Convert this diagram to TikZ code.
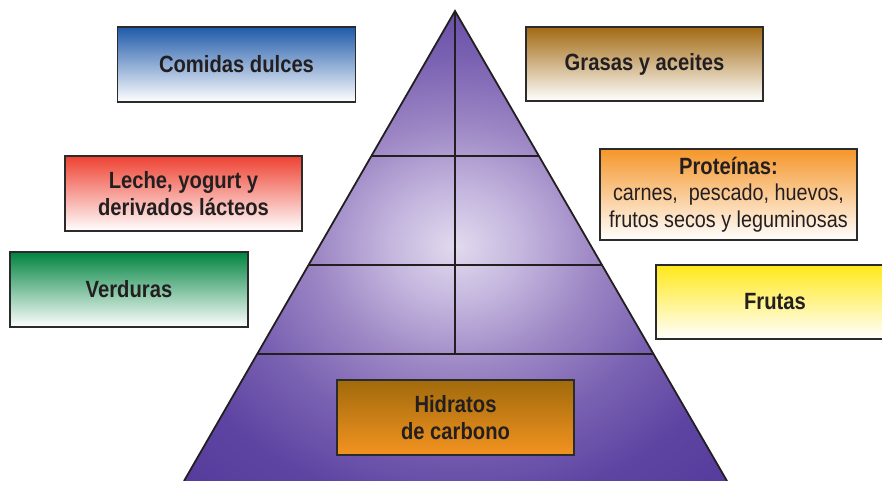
\documentclass[tikz,border=0pt]{standalone}
\usepackage{fontspec}
\setmainfont{Liberation Sans}[FakeStretch=0.86]
\usetikzlibrary{calc}
\definecolor{txt}{HTML}{231F20}
\definecolor{edge}{HTML}{2B2B2B}
\definecolor{pyr0}{HTML}{E2DAEE}
\definecolor{pyr1}{HTML}{C4B6DE}
\definecolor{pyr2}{HTML}{9C86C4}
\definecolor{pyr3}{HTML}{7A62B2}
\definecolor{pyr4}{HTML}{5E44A2}
\definecolor{pyr5}{HTML}{513698}
\definecolor{cblue}{HTML}{1F5AAA}
\definecolor{cbrown}{HTML}{A26A12}
\definecolor{cred}{HTML}{EE4232}
\definecolor{corange}{HTML}{F5962A}
\definecolor{cgreen}{HTML}{00843F}
\definecolor{cyellow}{HTML}{FFE81A}
\definecolor{hcarbtop}{HTML}{A16A0C}
\definecolor{hcarbbot}{HTML}{F39320}
\pgfdeclareradialshading{pyrshade}{\pgfpoint{0bp}{0bp}}{color(0bp)=(pyr0); color(6bp)=(pyr1); color(13bp)=(pyr2); color(20bp)=(pyr3); color(28bp)=(pyr4); color(40bp)=(pyr5); color(75bp)=(pyr5)}
\tikzset{
  foodbox/.style={draw=edge, line width=1.6pt, rectangle, inner sep=0pt, align=center,
    text=txt, font=\bfseries\fontsize{23.5}{26.5}\selectfont,
    shading=axis, bottom color=white, shading angle=0},
  pyrline/.style={draw=txt, line width=1.8pt}
}
\begin{document}
\begin{tikzpicture}[x=1pt,y=-1pt]
\useasboundingbox (0,0) rectangle (882,481);
\clip (0,0) rectangle (882,481);
\fill[white] (0,0) rectangle (882,481);
% pyramid
\coordinate (A) at (455,11);
\coordinate (BL) at (184,481);
\coordinate (BR) at (727,481);
\path[shading=pyrshade] (A) -- (BL) -- (BR) -- cycle;
\coordinate (L1) at ($(A)!0.3085!(BL)$);
\coordinate (R1) at ($(A)!0.3085!(BR)$);
\coordinate (L2) at ($(A)!0.5404!(BL)$);
\coordinate (R2) at ($(A)!0.5404!(BR)$);
\coordinate (L3) at ($(A)!0.7298!(BL)$);
\coordinate (R3) at ($(A)!0.7298!(BR)$);
\coordinate (M3) at ($(L3)!0.5!(R3)$);
\draw[pyrline] (L1) -- (R1);
\draw[pyrline] (L2) -- (R2);
\draw[pyrline] (L3) -- (R3);
\draw[pyrline] (A) -- (A |- M3);
\draw[pyrline, line join=miter] (BL) -- (A) -- (BR);
% boxes
\node[foodbox, top color=cblue, minimum width=238pt, minimum height=75pt] (dulces) at (236.5,64.5) {Comidas dulces};
\node[foodbox, top color=cbrown, minimum width=237pt, minimum height=74pt] (grasas) at (644.5,64) {Grasas y aceites};
\node[foodbox, top color=cred, minimum width=237pt, minimum height=75pt] (leche) at (183.5,193.5) {Leche, yogurt y\\derivados lácteos};
\node[foodbox, top color=corange, minimum width=257pt, minimum height=91pt] (prot) at (728.5,194.5)
  {Proteínas:\\{\mdseries\fontsize{23}{26.5}\selectfont carnes,\ \ pescado, huevos,}\\{\mdseries\fontsize{23}{26.5}\selectfont frutos secos y leguminosas}};
\node[foodbox, top color=cgreen, minimum width=238pt, minimum height=75pt] (verd) at (129,289.5) {Verduras};
\node[foodbox, top color=cyellow, minimum width=238pt, minimum height=74pt] (frutas) at (775,302) {Frutas};
\node[foodbox, top color=hcarbtop, bottom color=hcarbbot, minimum width=237pt, minimum height=75pt] (hidr) at (455.5,417.5) {Hidratos\\de carbono};
\end{tikzpicture}
\end{document}
